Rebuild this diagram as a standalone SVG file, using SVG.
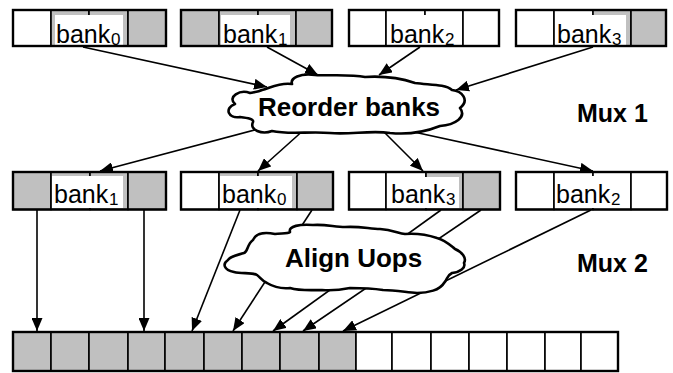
<svg xmlns="http://www.w3.org/2000/svg" width="673" height="373" viewBox="0 0 673 373">
<defs>
<marker id="ah" markerUnits="userSpaceOnUse" markerWidth="13" markerHeight="11" refX="13" refY="5.5" orient="auto">
<path d="M0,0 L13,5.5 L0,11 Z" fill="#000"/>
</marker>
<style>
.c{stroke:#000;stroke-width:1.6}
.g{fill:#c0c0c0}
.w{fill:#fff}
.o{fill:none;stroke:#000;stroke-width:2.4}
.lb{fill:#fff}
.bt{font-family:"Liberation Sans",Arial,sans-serif;font-size:25px;fill:#000}
.sb{font-family:"Liberation Sans",Arial,sans-serif;font-size:17px;fill:#000}
.big{font-family:"Liberation Sans",Arial,sans-serif;font-size:26px;font-weight:bold;fill:#000}
.cl{fill:#fff;stroke:#000;stroke-width:2.6;stroke-linejoin:round}
.ln{stroke:#000;stroke-width:1.6;fill:none;marker-end:url(#ah)}
</style>
</defs>
<rect width="673" height="373" fill="#fff"/>

<g id="connectors">
<line class="ln" x1="83" y1="47" x2="267" y2="87"/>
<line class="ln" x1="267" y1="47" x2="318" y2="75"/>
<line class="ln" x1="420" y1="47" x2="379" y2="75"/>
<line class="ln" x1="593" y1="47" x2="456" y2="90"/>
<line class="ln" x1="262" y1="128" x2="100" y2="171"/>
<line class="ln" x1="306" y1="128" x2="258" y2="171"/>
<line class="ln" x1="380" y1="128" x2="423" y2="171"/>
<line class="ln" x1="400" y1="129" x2="593" y2="171"/>
<line class="ln" x1="37" y1="210" x2="37" y2="331"/>
<line class="ln" x1="144" y1="210" x2="144" y2="331"/>
<line class="ln" x1="240" y1="210" x2="192" y2="331"/>
<line class="ln" x1="312" y1="210" x2="233" y2="331"/>
<line class="ln" x1="441" y1="210" x2="273" y2="331"/>
<line class="ln" x1="481" y1="210" x2="303" y2="331"/>
<line class="ln" x1="591" y1="210" x2="343" y2="331"/>
</g>

<g id="top-bank0">
<rect class="c w" x="13" y="10" width="38" height="36"/>
<rect class="c g" x="51" y="10" width="38" height="36"/>
<rect class="c g" x="89" y="10" width="39" height="36"/>
<rect class="c g" x="128" y="10" width="38" height="36"/>
<rect class="lb" x="55" y="15" width="68" height="30"/>
<rect class="o" x="13" y="10" width="153" height="36"/>
<text class="bt" x="56" y="43">bank</text>
<text class="sb" x="111" y="44.5">0</text>
</g>
<g id="top-bank1">
<rect class="c g" x="181" y="10" width="38" height="36"/>
<rect class="c g" x="219" y="10" width="39" height="36"/>
<rect class="c g" x="258" y="10" width="38" height="36"/>
<rect class="c g" x="296" y="10" width="36" height="36"/>
<rect class="lb" x="221" y="15" width="69" height="30"/>
<rect class="o" x="181" y="10" width="151" height="36"/>
<text class="bt" x="223" y="43">bank</text>
<text class="sb" x="278" y="44.5">1</text>
</g>
<g id="top-bank2">
<rect class="c w" x="349" y="10" width="37" height="36"/>
<rect class="c w" x="386" y="10" width="39" height="36"/>
<rect class="c w" x="425" y="10" width="38" height="36"/>
<rect class="c w" x="463" y="10" width="36" height="36"/>
<rect class="lb" x="388" y="15" width="70" height="30"/>
<rect class="o" x="349" y="10" width="150" height="36"/>
<text class="bt" x="390" y="43">bank</text>
<text class="sb" x="445" y="44.5">2</text>
</g>
<g id="top-bank3">
<rect class="c w" x="516" y="10" width="38" height="36"/>
<rect class="c w" x="554" y="10" width="39" height="36"/>
<rect class="c g" x="593" y="10" width="38" height="36"/>
<rect class="c g" x="631" y="10" width="35" height="36"/>
<rect class="lb" x="555" y="15" width="71" height="30"/>
<rect class="o" x="516" y="10" width="150" height="36"/>
<text class="bt" x="557" y="43">bank</text>
<text class="sb" x="612" y="44.5">3</text>
</g>

<g id="reorder-banks">
<path class="cl" d="M250 93 C240 89,227 97,235 104 C224 108,228 119,240 117 C248 118,254 119,253 122 C249 130,262 135,272 131 C290 135,310 131,330 133 C350 135,370 130,390 133 C410 135,425 132,440 126 C455 125,467 117,460 108 C470 100,462 91,452 90 C445 84,430 85,415 83 C400 78,380 76,365 77 C350 74,330 76,315 75 C300 73,290 78,292 84 C280 82,270 88,262 90 C258 92,254 92,250 93 Z"/>
<text class="big" x="258" y="116">Reorder banks</text>
</g>
<g id="mux1"><text class="big" x="577" y="122" style="font-size:25px">Mux 1</text></g>

<g id="mid-bank1">
<rect class="c g" x="13" y="172" width="38" height="37.5"/>
<rect class="c g" x="51" y="172" width="39" height="37.5"/>
<rect class="c g" x="90" y="172" width="38" height="37.5"/>
<rect class="c g" x="128" y="172" width="38" height="37.5"/>
<rect class="lb" x="52" y="176" width="71" height="32"/>
<rect class="o" x="13" y="172" width="153" height="37.5"/>
<text class="bt" x="54" y="203">bank</text>
<text class="sb" x="109" y="204.5">1</text>
</g>
<g id="mid-bank0">
<rect class="c w" x="181" y="172" width="38" height="37.5"/>
<rect class="c g" x="219" y="172" width="39" height="37.5"/>
<rect class="c g" x="258" y="172" width="39" height="37.5"/>
<rect class="c g" x="297" y="172" width="36" height="37.5"/>
<rect class="lb" x="220" y="176" width="72" height="32"/>
<rect class="o" x="181" y="172" width="152" height="37.5"/>
<text class="bt" x="222" y="203">bank</text>
<text class="sb" x="277" y="204.5">0</text>
</g>
<g id="mid-bank3">
<rect class="c w" x="349" y="172" width="37" height="37.5"/>
<rect class="c w" x="386" y="172" width="40" height="37.5"/>
<rect class="c g" x="426" y="172" width="37" height="37.5"/>
<rect class="c g" x="463" y="172" width="37" height="37.5"/>
<rect class="lb" x="387" y="177" width="72" height="31"/>
<rect class="o" x="349" y="172" width="151" height="37.5"/>
<text class="bt" x="391" y="203">bank</text>
<text class="sb" x="446" y="204.5">3</text>
</g>
<g id="mid-bank2">
<rect class="c w" x="516" y="172" width="38" height="37.5"/>
<rect class="c w" x="554" y="172" width="39" height="37.5"/>
<rect class="c w" x="593" y="172" width="38" height="37.5"/>
<rect class="c w" x="631" y="172" width="36" height="37.5"/>
<rect class="lb" x="555" y="176" width="72" height="32"/>
<rect class="o" x="516" y="172" width="151" height="37.5"/>
<text class="bt" x="556" y="203">bank</text>
<text class="sb" x="611" y="204.5">2</text>
</g>

<g id="align-uops">
<path class="cl" d="M253 240 C256 233,265 232,275 234 C280 233,288 234,290 232 C288 226,300 224,313 225 C325 224,335 227,345 227 C360 226,370 229,380 229 C392 230,398 233,405 234 C418 233,428 235,437 238 C445 240,450 245,455 249 C462 252,467 258,464 263 C466 268,460 272,452 273 C446 276,448 279,444 283 C440 290,428 293,417 293 C405 292,395 290,383 290 C370 288,360 288,350 288 C340 290,333 291,322 290 C310 290,300 291,290 288 C280 289,272 286,267 283 C262 281,260 277,257 275 C252 272,242 274,234 272 C224 270,222 264,228 260 C230 256,238 255,244 253 C248 252,247 244,253 240 Z"/>
<text class="big" x="285" y="267">Align Uops</text>
</g>
<g id="mux2"><text class="big" x="577" y="272" style="font-size:25px">Mux 2</text></g>

<g id="output-row">
<rect class="c g" x="13" y="332" width="38" height="39"/>
<rect class="c g" x="51" y="332" width="38" height="39"/>
<rect class="c g" x="89" y="332" width="39" height="39"/>
<rect class="c g" x="128" y="332" width="37" height="39"/>
<rect class="c g" x="165" y="332" width="39" height="39"/>
<rect class="c g" x="204" y="332" width="38" height="39"/>
<rect class="c g" x="242" y="332" width="38" height="39"/>
<rect class="c g" x="280" y="332" width="39" height="39"/>
<rect class="c g" x="319" y="332" width="37" height="39"/>
<rect class="c w" x="356" y="332" width="36" height="39"/>
<rect class="c w" x="392" y="332" width="39" height="39"/>
<rect class="c w" x="431" y="332" width="38" height="39"/>
<rect class="c w" x="469" y="332" width="38" height="39"/>
<rect class="c w" x="507" y="332" width="38" height="39"/>
<rect class="c w" x="545" y="332" width="36" height="39"/>
<rect class="c w" x="581" y="332" width="37" height="39"/>
<rect class="o" x="13" y="332" width="605" height="39"/>
</g>
</svg>
